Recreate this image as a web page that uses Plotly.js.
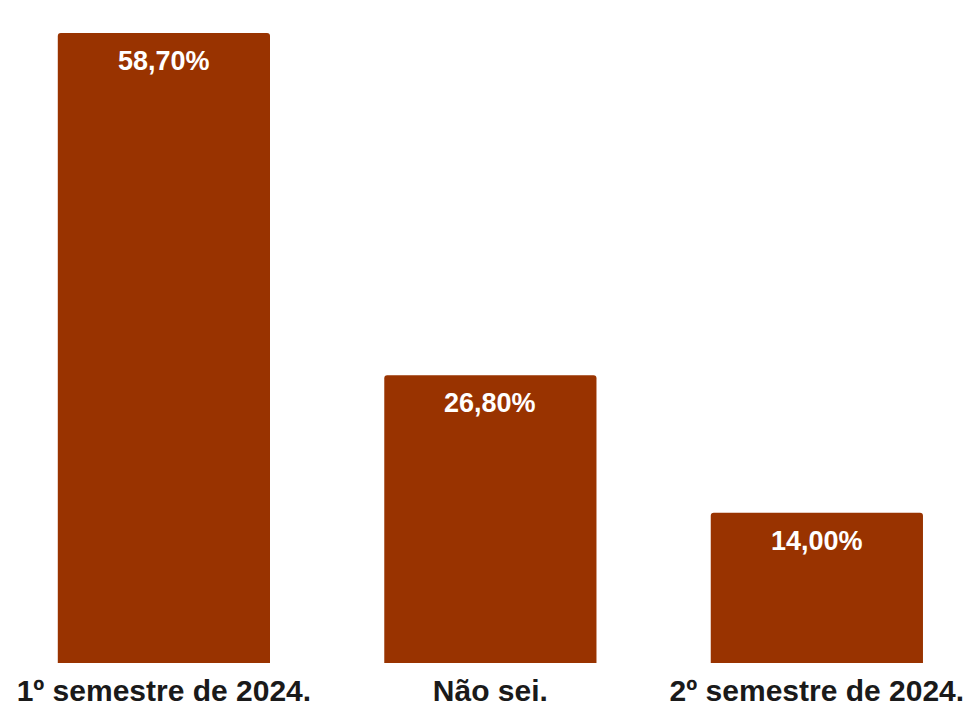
<!DOCTYPE html>
<html>
<head>
<meta charset="utf-8">
<script src="https://cdn.plot.ly/plotly-3.0.1.min.js"></script>
<style>html,body{margin:0;padding:0;background:#fff;}#chart{width:969px;height:710px;}</style>
</head>
<body>
<div id="chart"></div>
<script>
const categories = ["1º semestre de 2024.", "Não sei.", "2º semestre de 2024."];
const values = [58.7, 26.8, 14.0];
const labels = ["58,70%", "26,80%", "14,00%"];

const FONT = "'Liberation Sans', Arial, sans-serif";

const trace = {
  type: "bar",
  x: categories,
  y: values,
  marker: {color: "#993300", cornerradius: 3},
  hoverinfo: "none"
};

const annotations = categories.map((c, i) => ({
  x: c, y: values[i], xref: "x", yref: "y",
  text: labels[i], showarrow: false,
  yanchor: "top", yshift: -11,
  font: {family: FONT, size: 27, color: "#ffffff", weight: "bold"}
}));

const layout = {
  width: 969, height: 710,
  margin: {l: 0, r: 0, t: 33, b: 47, pad: 0},
  paper_bgcolor: "#ffffff", plot_bgcolor: "#ffffff",
  showlegend: false,
  bargap: 0.35,
  xaxis: {
    range: [-0.502, 2.466],
    showgrid: false, zeroline: false, showline: false, ticks: "",
    ticklabelstandoff: 7,
    tickfont: {family: FONT, size: 30, color: "#1a1a1a", weight: "bold"}
  },
  yaxis: {range: [0, 58.7], visible: false, showgrid: false, zeroline: false},
  annotations: annotations
};

Plotly.newPlot("chart", [trace], layout, {displayModeBar: false, staticPlot: true});
</script>
</body>
</html>
